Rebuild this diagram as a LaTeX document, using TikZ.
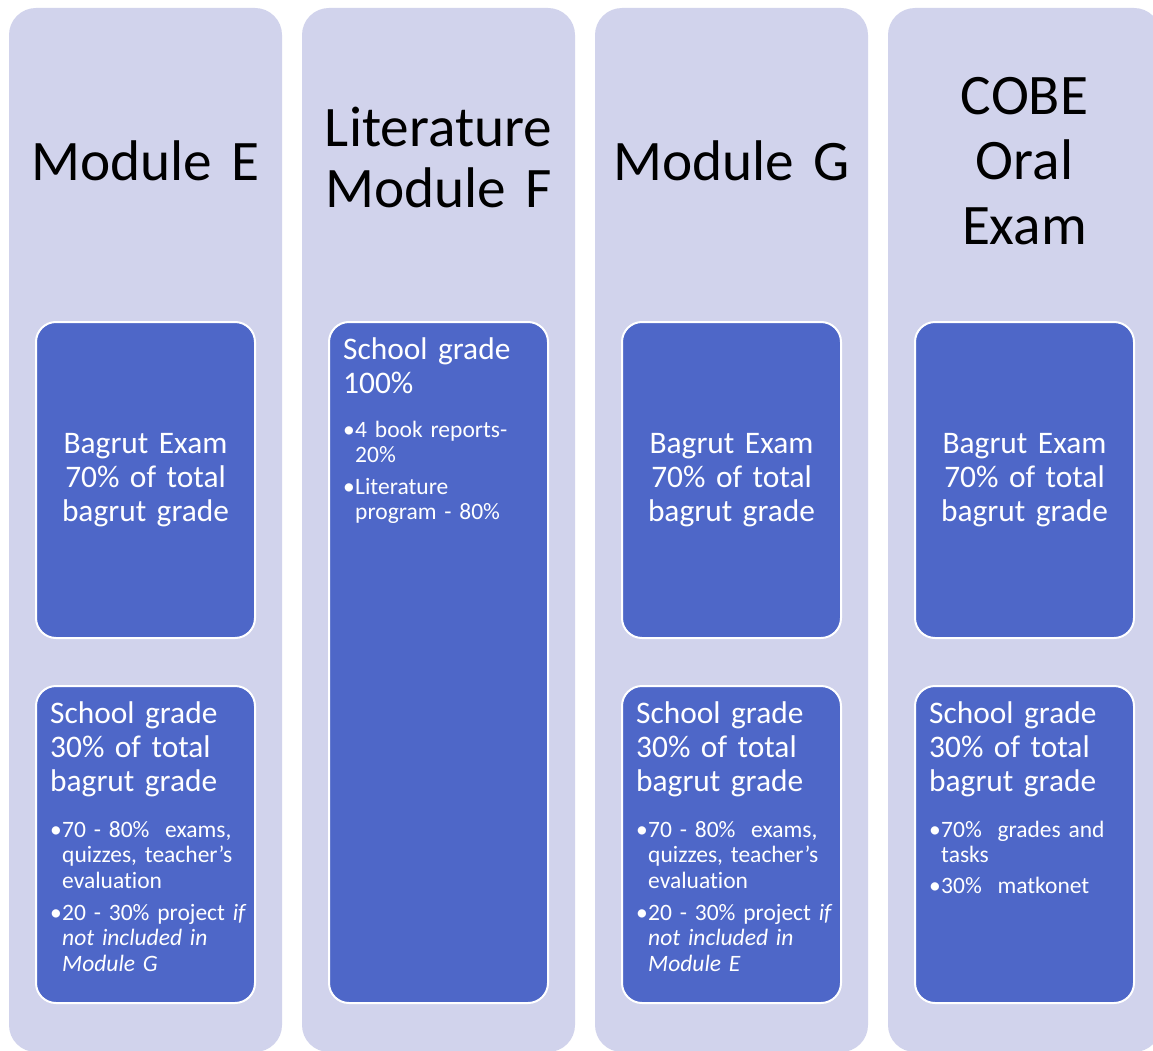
\documentclass[tikz,border=0pt]{standalone}
\usepackage{fontspec}
\setmainfont{Carlito}[Ligatures={NoCommon}]
\definecolor{lav}{HTML}{D1D3EC}
\definecolor{blu}{HTML}{4E67C8}
\newcommand\mybul{\makebox[12pt][l]{•}}
\newcommand\myind{\hspace*{12pt}}
\begin{document}
\begin{tikzpicture}[x=1pt,y=-1pt,
 col/.style={fill=lav, draw=none, rounded corners=27pt, minimum width=273pt, minimum height=1044pt, inner sep=0pt},
 ibox/.style={fill=blu, draw=white, line width=2pt, rounded corners=20pt, minimum width=219pt, inner sep=0pt},
 ttl/.style={text width=270pt, align=center, anchor=base, inner sep=0pt, text=black, font=\fontsize{57.3}{63}\selectfont},
 hdc/.style={text width=215pt, align=center, anchor=base, inner sep=0pt, text=white, font=\fontsize{31.4}{34.3}\selectfont},
 hdl/.style={text width=205pt, align=left, anchor=base west, inner sep=0pt, text=white, font=\fontsize{31.4}{34.3}\selectfont},
 blt/.style={text width=200pt, align=left, anchor=base west, inner sep=0pt, text=white, font=\fontsize{23.5}{25.5}\selectfont},
]
\useasboundingbox (0,0) rectangle (1153,1051);
\clip (0,0) rectangle (1153,1051);
\fill[white] (0,0) rectangle (1153,1051);

% columns
\node[col] (c1) at (145.5,530) {};
\node[col] (c2) at (438.5,530) {};
\node[col] (c3) at (731.5,530) {};
\node[col] (c4) at (1024.5,530) {};

% titles
\node[ttl] (t1) at (145.5,181) {Module E};
\node[ttl, font=\fontsize{57.3}{61}\selectfont] (t2) at (438.5,147) {Literature\\Module F};
\node[ttl] (t3) at (731.5,181) {Module G};
\node[ttl, font=\fontsize{57.3}{65}\selectfont] (t4) at (1024.5,115) {COBE\\Oral\\Exam};

% inner boxes
\node[ibox, minimum height=316pt] (e1) at (145.5,480) {};
\node[ibox, minimum height=317pt] (e2) at (145.5,844.5) {};
\node[ibox, minimum height=681pt] (f1) at (438.5,662.5) {};
\node[ibox, minimum height=316pt] (g1) at (731.5,480) {};
\node[ibox, minimum height=317pt] (g2) at (731.5,844.5) {};
\node[ibox, minimum height=316pt] (o1) at (1024.5,480) {};
\node[ibox, minimum height=317pt] (o2) at (1024.5,844.5) {};

% Module E texts
\node[hdc] (e1t) at (145.5,453) {Bagrut Exam\\70\% of total\\bagrut grade};
\node[hdl] (e2h) at (50,723) {School grade\\30\% of total\\bagrut grade};
\node[blt] (e2b1) at (50,837) {\mybul 70 - 80\%\ \ exams,\\\myind quizzes, teacher’s\\\myind evaluation};
\node[blt] (e2b2) at (50,920) {\mybul 20 - 30\% project \textit{if}\\\myind\textit{not included in}\\\myind\textit{Module G}};

% Literature Module F texts
\node[hdl] (f1h) at (343,359) {School grade\\100\%};
\node[blt] (f1b1) at (343,437) {\mybul 4 book reports-\\\myind 20\%};
\node[blt] (f1b2) at (343,494) {\mybul Literature\\\myind program - 80\%};

% Module G texts
\node[hdc] (g1t) at (731.5,453) {Bagrut Exam\\70\% of total\\bagrut grade};
\node[hdl] (g2h) at (636,723) {School grade\\30\% of total\\bagrut grade};
\node[blt] (g2b1) at (636,837) {\mybul 70 - 80\%\ \ exams,\\\myind quizzes, teacher’s\\\myind evaluation};
\node[blt] (g2b2) at (636,920) {\mybul 20 - 30\% project \textit{if}\\\myind\textit{not included in}\\\myind\textit{Module E}};

% COBE Oral Exam texts
\node[hdc] (o1t) at (1024.5,453) {Bagrut Exam\\70\% of total\\bagrut grade};
\node[hdl] (o2h) at (929,723) {School grade\\30\% of total\\bagrut grade};
\node[blt] (o2b1) at (929,837) {\mybul 70\%\ \ grades and\\\myind tasks};
\node[blt] (o2b2) at (929,893) {\mybul 30\%\ \ matkonet};
\end{tikzpicture}
\end{document}
